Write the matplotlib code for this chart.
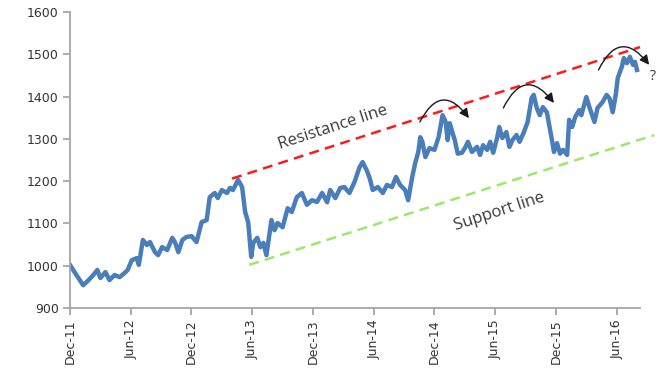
import matplotlib
matplotlib.use("Agg")
import matplotlib.pyplot as plt
import numpy as np

# months since Dec-11 and index level
months = [0.0, 0.5, 1.3, 1.8, 2.3, 2.7, 3.0, 3.5, 3.9, 4.4, 4.9, 5.4, 5.7, 6.1, 6.6, 6.8,
          7.2, 7.6, 7.9, 8.4, 8.7, 9.1, 9.6, 10.1, 10.4, 10.7, 11.1, 11.5, 12.0, 12.5,
          13.0, 13.5, 13.8, 14.3, 14.6, 15.0, 15.5, 15.8, 16.1, 16.6, 17.0, 17.3, 17.6,
          17.9, 18.1, 18.5, 18.8, 19.1, 19.4, 19.9, 20.2, 20.5, 21.0, 21.5, 21.9, 22.4,
          22.9, 23.4, 23.9, 24.4, 24.9, 25.4, 25.7, 26.2, 26.7, 27.1, 27.6, 28.1, 28.6,
          28.9, 29.3, 29.6, 29.9, 30.4, 30.9, 31.3, 31.8, 32.2, 32.6, 33.1, 33.4, 33.8,
          34.1, 34.4, 34.6, 34.8, 35.1, 35.5, 36.0, 36.4, 36.8, 37.1, 37.3, 37.5, 38.0,
          38.3, 38.7, 39.0, 39.3, 39.7, 40.2, 40.5, 40.8, 41.2, 41.5, 41.8, 42.2, 42.4,
          42.7, 43.1, 43.4, 43.7, 44.1, 44.4, 44.8, 45.2, 45.6, 45.8, 46.1, 46.4, 46.7,
          47.1, 47.3, 47.6, 47.8, 48.1, 48.4, 48.7, 49.1, 49.3, 49.6, 49.9, 50.3, 50.5,
          51.0, 51.3, 51.8, 52.1, 52.6, 53.0, 53.3, 53.6, 53.9, 54.1, 54.5, 54.7, 55.0,
          55.3, 55.6, 55.8, 56.0]
index_level = [1002, 983, 954, 965, 978, 990, 971, 985, 966, 978, 973, 983, 990, 1013, 1018, 1002,
               1061, 1049, 1056, 1032, 1025, 1044, 1037, 1066, 1054, 1032, 1061, 1068, 1070, 1056,
               1103, 1108, 1162, 1172, 1160, 1179, 1172, 1184, 1179, 1203, 1186, 1127, 1103,
               1021, 1054, 1066, 1044, 1054, 1025, 1108, 1084, 1101, 1091, 1136, 1127, 1162,
               1172, 1144, 1155, 1151, 1172, 1150, 1179, 1160, 1184, 1186, 1172, 1198, 1233,
               1245, 1226, 1207, 1179, 1186, 1172, 1191, 1186, 1210, 1191, 1179, 1155, 1210,
               1243, 1269, 1304, 1293, 1257, 1278, 1274, 1304, 1356, 1340, 1297, 1337, 1297,
               1265, 1267, 1278, 1293, 1269, 1281, 1262, 1285, 1274, 1293, 1267, 1304, 1328,
               1302, 1316, 1281, 1297, 1309, 1293, 1314, 1340, 1397, 1404, 1373, 1356, 1375,
               1363, 1337, 1297, 1269, 1290, 1265, 1274, 1262, 1345, 1328, 1352, 1368, 1356,
               1399, 1375, 1340, 1373, 1387, 1404, 1395, 1363, 1404, 1444, 1470, 1491, 1479,
               1494, 1475, 1482, 1463]

tick_months = [0, 6, 12, 18, 24, 30, 36, 42, 48, 54]
tick_labels = ["Dec-11", "Jun-12", "Dec-12", "Jun-13", "Dec-13", "Jun-14",
               "Dec-14", "Jun-15", "Dec-15", "Jun-16"]

resistance_x = [16.0, 56.3]
resistance_y = [1206, 1517]
support_x = [17.7, 57.7]
support_y = [1002, 1309]

# curved arrows: (start month, start level, end month, end level)
arrows = [(34.55, 1340, 39.4, 1349),
          (42.8, 1373, 47.8, 1385),
          (52.2, 1463, 57.2, 1475)]

fig = plt.figure(figsize=(6.64, 3.68), dpi=100)
ax = fig.add_axes([0.1054, 0.163, 0.8585, 0.8044])

ax.plot(months, index_level, color='#4A7EBB', linewidth=3.2, solid_joinstyle='round')

ax.plot(resistance_x, resistance_y, color='#FF1A1A', linewidth=1.8,
        dashes=(4, 2.5), clip_on=False)
ax.plot(support_x, support_y, color='#9CE86A', linewidth=1.8,
        dashes=(4, 2.5), clip_on=False)

for x0, y0, x1, y1 in arrows:
    ax.annotate('', xy=(x1, y1), xytext=(x0, y0), annotation_clip=False,
                arrowprops=dict(arrowstyle='-|>', color='#1A1A1A', lw=1.0,
                                mutation_scale=14, shrinkA=0, shrinkB=0,
                                connectionstyle='arc3,rad=-0.8'))

ax.text(57.6, 1448, '?', fontsize=10, color='#333333', family='Open Sans',
        ha='center', va='center', clip_on=False)

ax.text(26.0, 1326, 'Resistance line', fontsize=12, color='#3A3A3A', family='Open Sans',
        rotation=18, rotation_mode='anchor', ha='center', va='center')
ax.text(42.4, 1127, 'Support line', fontsize=12, color='#3A3A3A', family='Open Sans',
        rotation=18, rotation_mode='anchor', ha='center', va='center')

ax.set_xlim(0, 56.3)
ax.set_ylim(900, 1600)
ax.set_yticks(np.arange(900, 1601, 100))
ax.set_xticks(tick_months)
ax.set_xticklabels(tick_labels, rotation=90)

for s in ['top', 'right']:
    ax.spines[s].set_visible(False)
for s in ['left', 'bottom']:
    ax.spines[s].set_color('#A6A6A6')
    ax.spines[s].set_linewidth(1.3)

ax.tick_params(axis='both', colors='#A6A6A6', length=5, width=1.3, labelsize=9,
               labelcolor='#333333', pad=3)

plt.savefig('out.png', dpi=100)
